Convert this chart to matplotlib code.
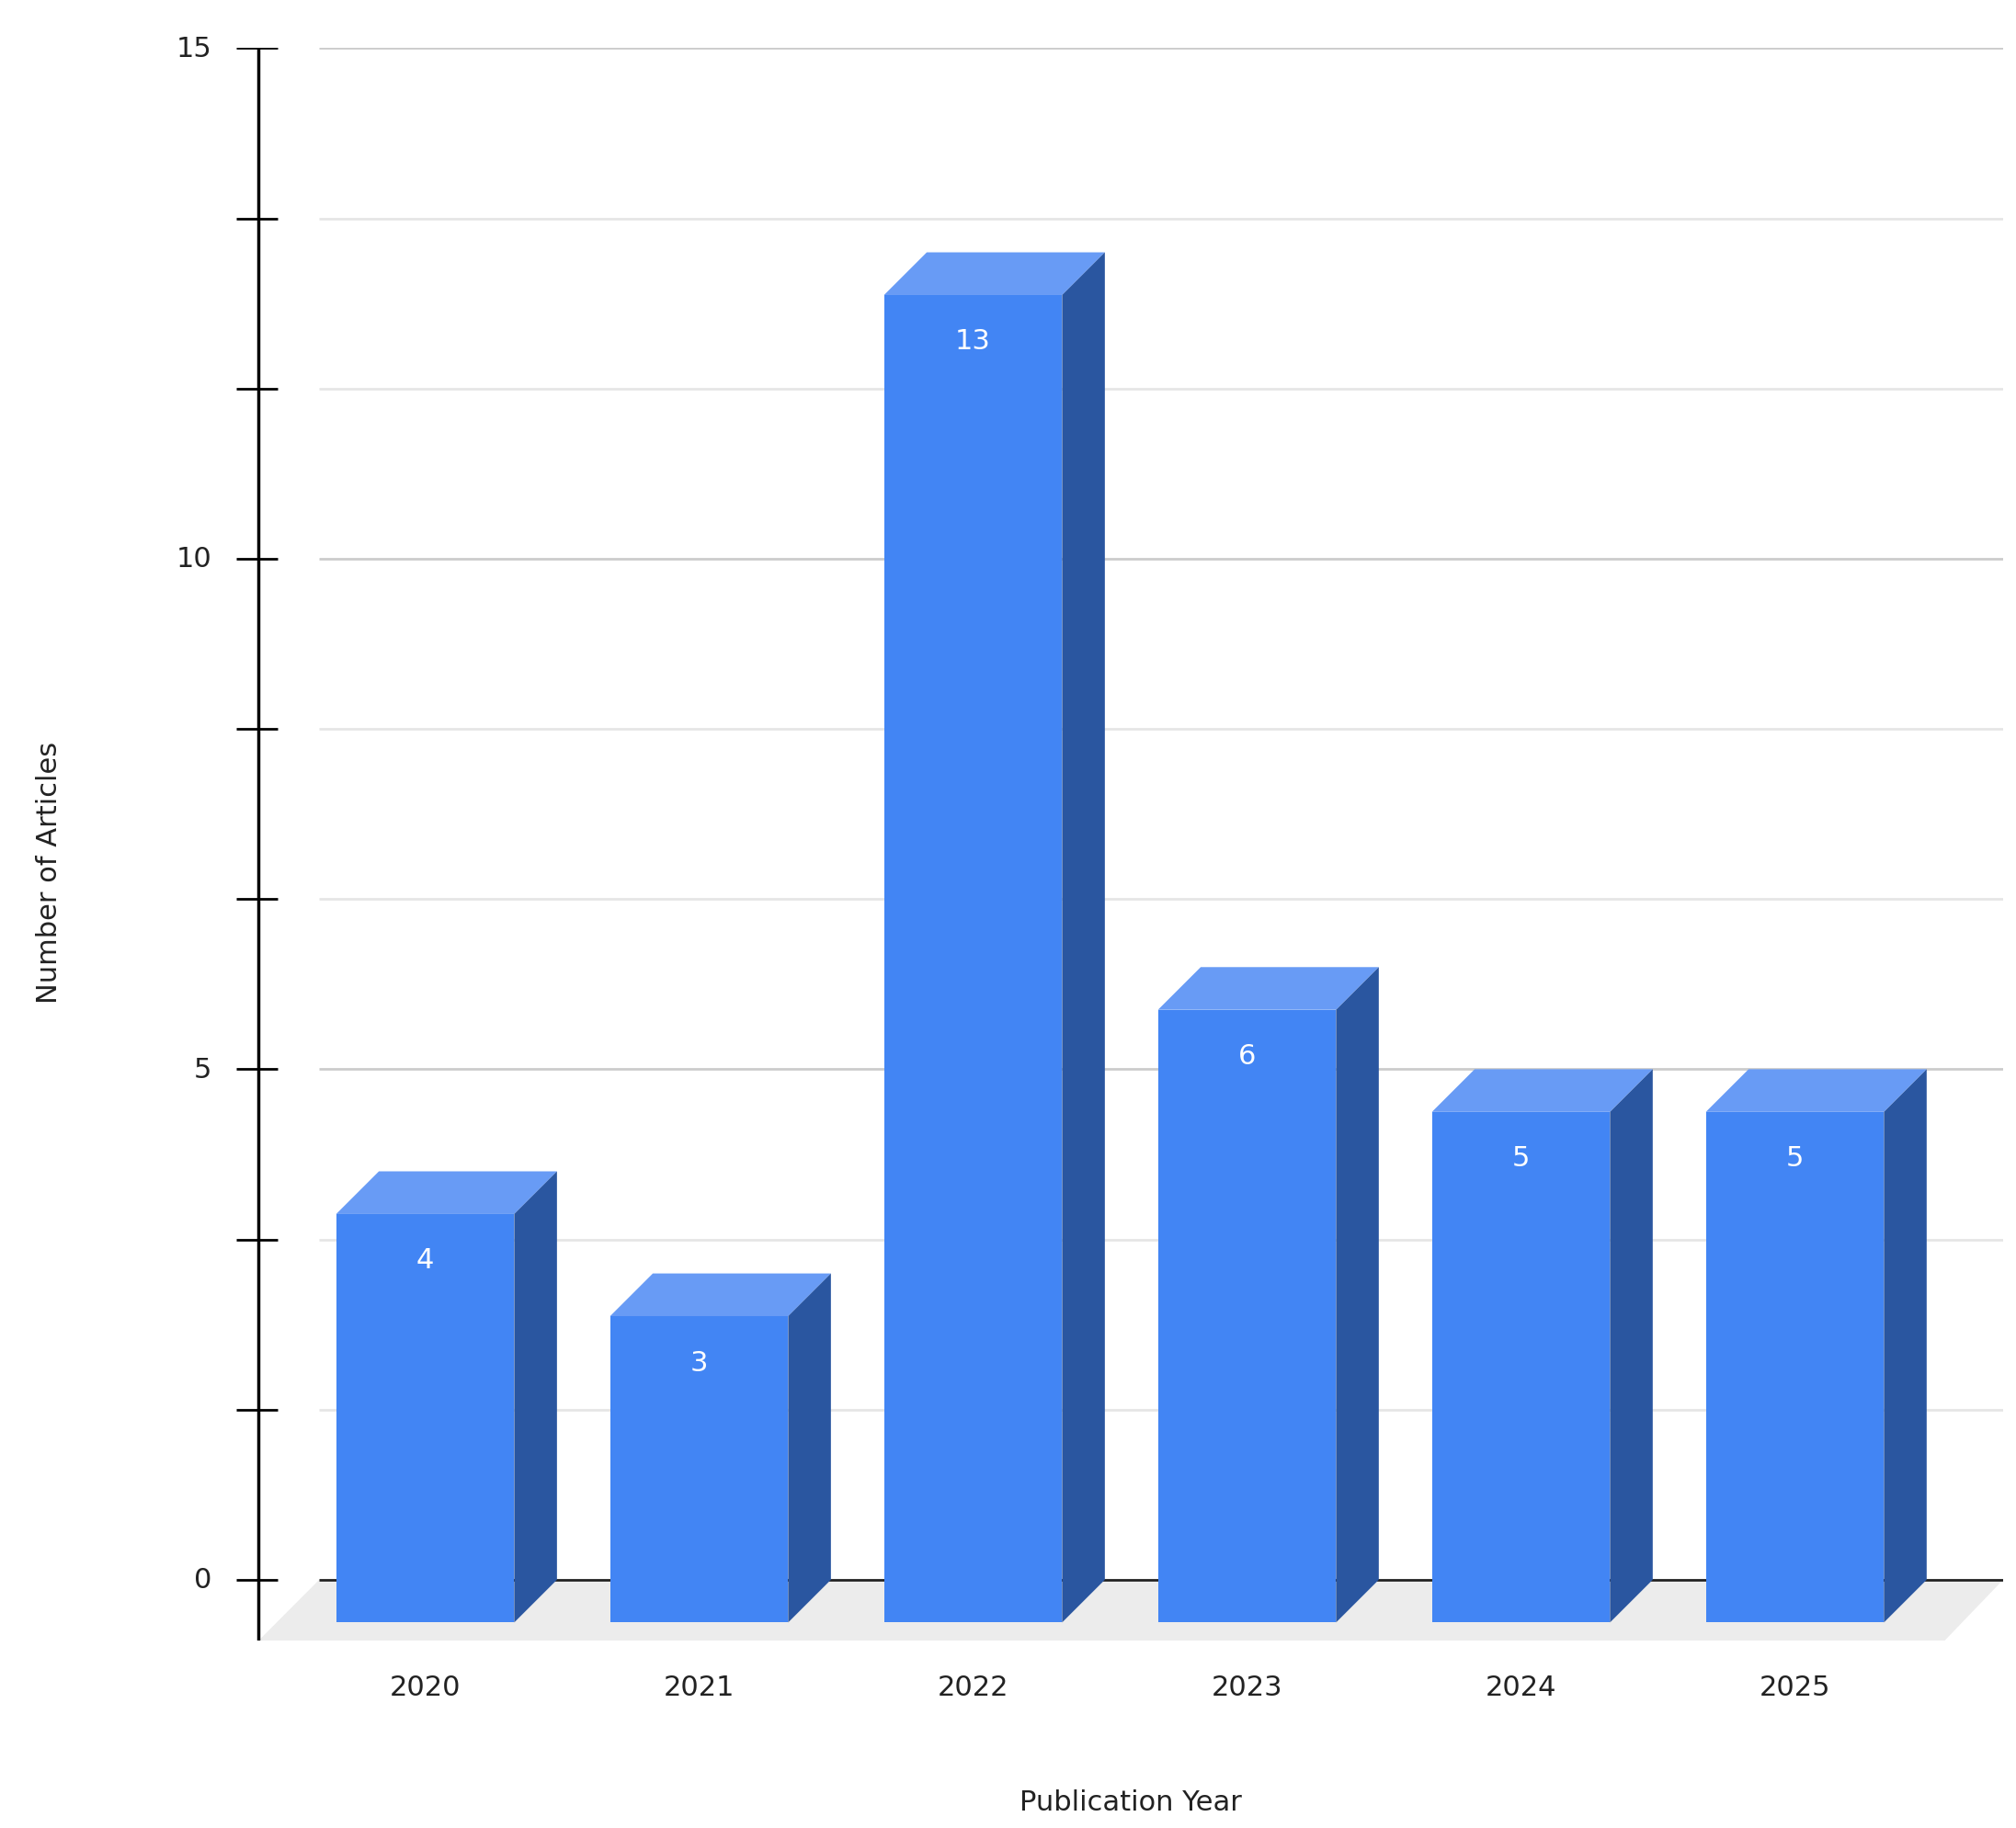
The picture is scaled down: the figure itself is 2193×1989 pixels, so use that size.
import matplotlib
matplotlib.use("Agg")
import matplotlib.pyplot as plt
from matplotlib.patches import Polygon
import numpy as np

years = ["2020", "2021", "2022", "2023", "2024", "2025"]
counts = [4, 3, 13, 6, 5, 5]
major_ticks = [0, 5, 10, 15]

W, D, DX = 0.325, 0.418, 0.156
FRONT, TOP, SIDE = "#4285F4", "#689BF5", "#2A56A0"

fig = plt.figure(figsize=(21.93, 19.90), dpi=100)
ax = fig.add_axes([0.109, 0.1025, 0.8846, 0.8707])
ax.set_xlim(-0.75, 5.76)
ax.set_ylim(-0.595, 15)
ax.axis("off")

# floor
ax.add_patch(Polygon([(-0.608, -0.595), (5.547, -0.595), (5.76, 0), (-0.387, 0)],
                     closed=True, facecolor="#ececec", edgecolor="none", zorder=1))
# gridlines & ticks
for k in range(10):
    v = k * 5 / 3
    is_major = k % 3 == 0
    col = "#cccccc" if is_major else "#e6e6e6"
    if v == 0:
        col = "#222222"
    ax.plot([-0.387, 5.76], [v, v], color=col, lw=2, zorder=2, solid_capstyle="butt")
    ax.plot([-0.689, -0.538], [v, v], color="black", lw=2, zorder=5, solid_capstyle="butt")
for v in major_ticks:
    ax.text(-0.78, v, str(v), ha="right", va="center", fontsize=22, color="#222222")
ax.plot([-0.608, -0.608], [-0.595, 15], color="black", lw=2.5, zorder=5)

for i, (y, c) in enumerate(zip(years, counts)):
    ax.add_patch(Polygon([(i - W, -D), (i + W, -D), (i + W, c - D), (i - W, c - D)],
                         facecolor=FRONT, edgecolor="none", zorder=4))
    ax.add_patch(Polygon([(i - W, c - D), (i + W, c - D), (i + W + DX, c), (i - W + DX, c)],
                         facecolor=TOP, edgecolor="none", zorder=4))
    ax.add_patch(Polygon([(i + W, -D), (i + W + DX, 0), (i + W + DX, c), (i + W, c - D)],
                         facecolor=SIDE, edgecolor="none", zorder=4))
    ax.text(i, c - D - 0.45, str(c), ha="center", va="center", fontsize=22,
            color="white", zorder=6)
    ax.text(i, -1.05, y, ha="center", va="center", fontsize=22, color="#222222")

fig.text(38 / 1560, 1 - 675 / 1415, "Number of Articles", rotation=90,
         ha="center", va="center", fontsize=22, color="#222222")
fig.text(875 / 1560, 1 - 1395 / 1415, "Publication Year",
         ha="center", va="center", fontsize=22, color="#222222")

fig.savefig("out.png", dpi=100, facecolor="white")
